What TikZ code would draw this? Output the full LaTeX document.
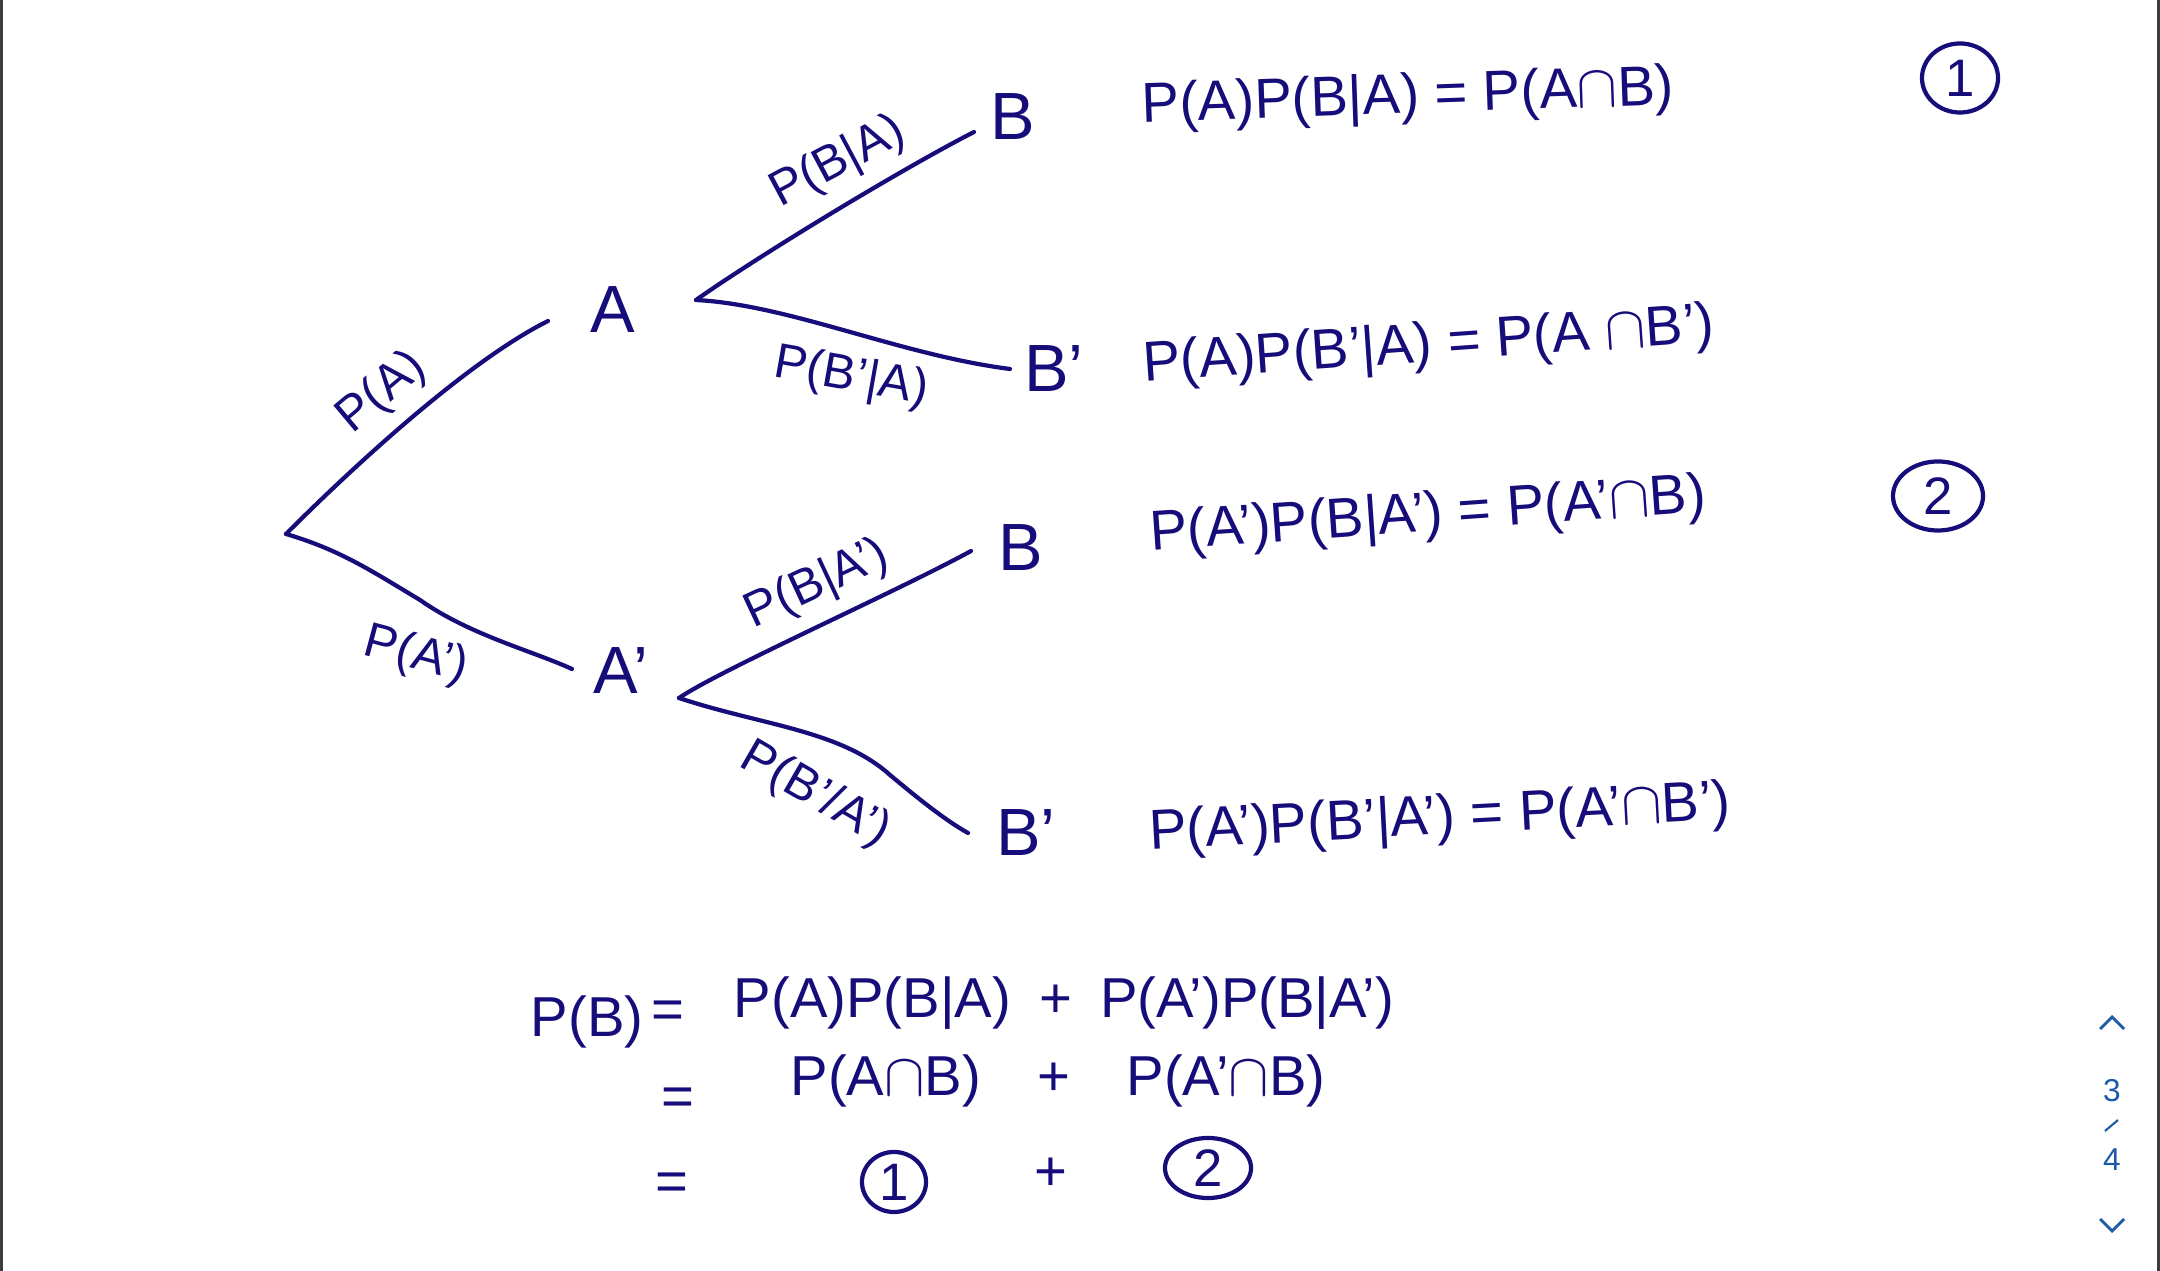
\documentclass[tikz,border=0pt]{standalone}
\usepackage{fontspec}
\setmainfont{Liberation Sans}
\usetikzlibrary{shapes.geometric}
\definecolor{ink}{RGB}{22,12,122}
\definecolor{navblue}{RGB}{30,90,165}
\definecolor{edge}{RGB}{60,60,60}
\begin{document}
\begin{tikzpicture}[x=0.01cm, y=-0.01cm,
	pen/.style={draw=ink, line width=1.2pt, line cap=round},
	evt/.style={text=ink, font=\fontsize{19}{22}\selectfont, inner sep=0pt},
	lbl/.style={text=ink, font=\fontsize{14}{16}\selectfont, inner sep=0pt},
	eqn/.style={text=ink, font=\fontsize{16}{19}\selectfont, inner sep=0pt},
	tag/.style={draw=ink, line width=1.2pt, ellipse, text=ink, inner sep=0pt, font=\fontsize{15}{18}\selectfont},
	nav/.style={text=navblue, font=\fontsize{9}{11}\selectfont, inner sep=0pt}]
	\useasboundingbox (0,0) rectangle (2160,1271);
	\fill[white] (0,0) rectangle (2160,1271);
	\draw[edge, line width=0.9pt] (1.5,0) -- (1.5,1271);
	\draw[edge, line width=0.9pt] (2158.5,0) -- (2158.5,1271);
	% Tree
	\coordinate (root) at (286,534);
	\coordinate (aend) at (548,321);
	\coordinate (acend) at (572,669);
	\coordinate (asplit) at (696,300);
	\coordinate (acsplit) at (679,698);
	\coordinate (b1end) at (974,132);
	\coordinate (b2end) at (1010,369);
	\coordinate (b3end) at (971,551);
	\coordinate (b4end) at (968,833);
	\node[evt] (a) at (613,310) {A};
	\node[evt] (ac) at (621,671) {A'};
	\node[evt] (b1) at (1013,117) {B};
	\node[evt] (b2) at (1054,369) {B'};
	\node[evt] (b3) at (1021,548) {B};
	\node[evt] (b4) at (1026,833) {B'};
	\draw[pen] (root) .. controls (360,460) and (470,360) .. (aend);
	\draw[pen] (root) .. controls (340,550) and (370,570) .. (420,600) .. controls (470,635) and (530,650) .. (acend);
	\draw[pen] (asplit) .. controls (760,255) and (900,170) .. (b1end);
	\draw[pen] (asplit) .. controls (790,305) and (900,355) .. (b2end);
	\draw[pen] (acsplit) .. controls (720,670) and (900,590) .. (b3end);
	\draw[pen] (acsplit) .. controls (760,725) and (840,730) .. (890,775) .. controls (920,800) and (945,820) .. (b4end);
	% Branch labels
	\node[lbl, rotate=40] (pa) at (382,393) {P(A)};
	\node[lbl, rotate=-15] (pac) at (416,656) {P(A')};
	\node[lbl, rotate=28] (pba) at (838,163) {P(B|A)};
	\node[lbl, rotate=-10] (pbca) at (851,378) {P(B'|A)};
	\node[lbl, rotate=25] (pbac) at (817,585) {P(B|A')};
	\node[lbl, rotate=-30] (pbcac) at (815,795) {P(B'/A')};
	% Products
	\node[eqn, rotate=2] (eq1) at (1408,99) {P(A)P(B|A) = P(A$\cap$B)};
	\node[eqn, rotate=4] (eq2) at (1429,347) {P(A)P(B'|A) = P(A $\cap$B')};
	\node[eqn, rotate=4] (eq3) at (1428,517) {P(A')P(B|A') = P(A'$\cap$B)};
	\node[eqn, rotate=3] (eq4) at (1440,820) {P(A')P(B'|A') = P(A'$\cap$B')};
	\node[tag, minimum width=0.76cm, minimum height=0.69cm] (one) at (1960,78) {1};
	\node[tag, minimum width=0.9cm, minimum height=0.69cm] (two) at (1938,496) {2};
	% Total probability
	\node[eqn] (pb) at (587,1022) {P(B)};
	\node[eqn] (eqa) at (668,1015) {=};
	\node[eqn] (sum1) at (1064,1003) {P(A)P(B|A)\enspace +\enspace P(A')P(B|A')};
	\node[eqn] (eqb) at (678,1102) {=};
	\node[eqn] (sum2) at (1058,1081) {P(A$\cap$B)\quad +\quad P(A'$\cap$B)};
	\node[eqn] (eqc) at (672,1187) {=};
	\node[tag, minimum width=0.64cm, minimum height=0.6cm] (oneb) at (894,1182) {1};
	\node[eqn] (plus) at (1051,1174) {+};
	\node[tag, minimum width=0.86cm, minimum height=0.6cm] (twob) at (1208,1168) {2};
	% Page navigation
	\draw[navblue, line width=0.8pt] (2100,1029) -- (2112,1017) -- (2124,1029);
	\node[nav] (pg) at (2112,1091) {3};
	\draw[navblue, line width=0.6pt] (2105,1131) -- (2118,1120);
	\node[nav] (pgs) at (2112,1160) {4};
	\draw[navblue, line width=0.8pt] (2100,1219) -- (2112,1231) -- (2124,1219);
\end{tikzpicture}
\end{document}
